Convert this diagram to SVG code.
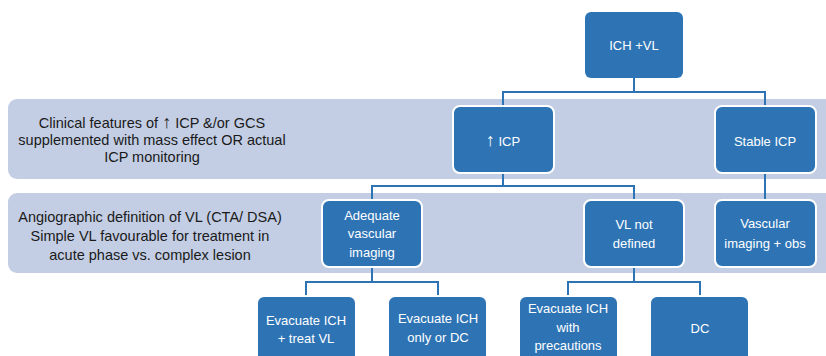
<svg xmlns="http://www.w3.org/2000/svg" width="826" height="356" viewBox="0 0 826 356">
<style>
.band{fill:#c3cee4}
.box{fill:#2e74b5;stroke:#ffffff;stroke-width:2}
.bt{font-family:"Liberation Sans",Arial,sans-serif;font-size:13px;fill:#ffffff;text-anchor:middle}
.lt{font-family:"Liberation Sans",Arial,sans-serif;font-size:14.5px;fill:#1a1a1a;text-anchor:middle}
.ar{font-size:18px}
.con{fill:none;stroke:#2e74b5;stroke-width:2}
</style>
<rect width="826" height="356" fill="#ffffff"/>
<g id="band1"><rect class="band" x="8" y="99" width="830" height="80" rx="9"/>
<text class="lt" x="152" y="128">Clinical features of <tspan class="ar">↑</tspan> ICP &amp;/or GCS</text>
<text class="lt" x="152" y="145">supplemented with mass effect OR actual</text>
<text class="lt" x="152" y="162">ICP monitoring</text></g>
<g id="band2"><rect class="band" x="8" y="193" width="830" height="80" rx="9"/>
<text class="lt" x="150" y="222">Angiographic definition of VL (CTA/ DSA)</text>
<text class="lt" x="150" y="241">Simple VL favourable for treatment in</text>
<text class="lt" x="150" y="260">acute phase vs. complex lesion</text></g>
<g id="connectors">
<path class="con" d="M634 78V92M503 107V92H765V107"/>
<path class="con" d="M503 173V186M372 201V186H634V201"/>
<path class="con" d="M765 173V201"/>
<path class="con" d="M372 267V282M306 297V282H438V297"/>
<path class="con" d="M634 267V282M568 297V282H700V297"/>
</g>
<g id="root"><rect x="585" y="12" width="98" height="66" rx="6" fill="#2e74b5"/><text class="bt" x="634" y="50">ICH +VL</text></g>
<g id="icp"><rect class="box" x="453" y="106" width="101" height="67" rx="7"/><text class="bt" x="503" y="146"><tspan class="ar">↑</tspan> ICP</text></g>
<g id="stable"><rect class="box" x="715" y="106" width="101" height="67" rx="7"/><text class="bt" x="765" y="146">Stable ICP</text></g>
<g id="adequate"><rect class="box" x="322" y="200" width="100" height="67" rx="7"/><text class="bt" x="372" y="220">Adequate</text><text class="bt" x="372" y="238">vascular</text><text class="bt" x="372" y="257">imaging</text></g>
<g id="vlnot"><rect class="box" x="584" y="200" width="100" height="67" rx="7"/><text class="bt" x="634" y="229">VL not</text><text class="bt" x="634" y="248">defined</text></g>
<g id="vascular"><rect class="box" x="715" y="200" width="101" height="67" rx="7"/><text class="bt" x="765" y="228">Vascular</text><text class="bt" x="765" y="248">imaging + obs</text></g>
<g id="evac1"><rect class="box" x="257" y="296" width="99" height="70" rx="7"/><text class="bt" x="306" y="325">Evacuate ICH</text><text class="bt" x="306" y="343">+ treat VL</text></g>
<g id="evac2"><rect class="box" x="388" y="296" width="99" height="70" rx="7"/><text class="bt" x="438" y="323">Evacuate ICH</text><text class="bt" x="438" y="342">only or DC</text></g>
<g id="evac3"><rect class="box" x="519" y="296" width="99" height="70" rx="7"/><text class="bt" x="568" y="313">Evacuate ICH</text><text class="bt" x="568" y="332">with</text><text class="bt" x="568" y="350">precautions</text></g>
<g id="dc"><rect class="box" x="650" y="296" width="99" height="70" rx="7"/><text class="bt" x="700" y="333">DC</text></g>
</svg>
